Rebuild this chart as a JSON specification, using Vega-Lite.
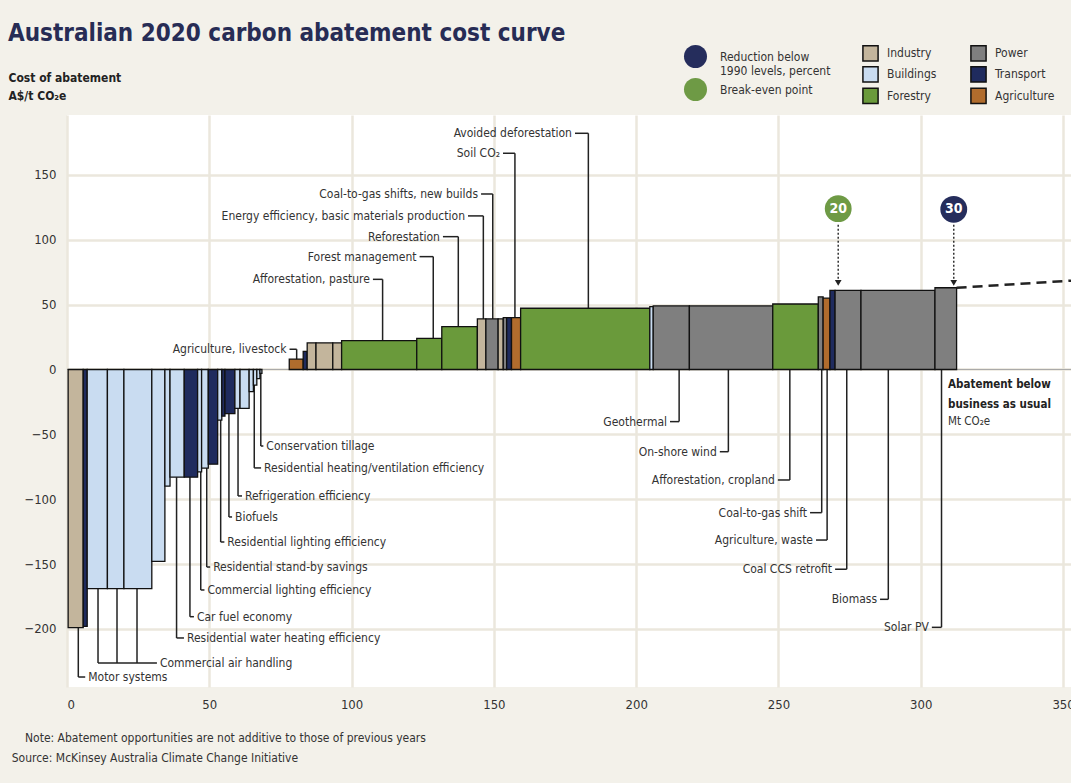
{
  "$schema": "https://vega.github.io/schema/vega-lite/v6.json",
  "width": 1004,
  "height": 572,
  "autosize": {"type": "none"},
  "padding": {"left": 67, "top": 115, "right": 0, "bottom": 96},
  "background": "#f3f1ea",
  "config": {
    "font": "Liberation Sans Narrow, DejaVu Sans Condensed, Liberation Sans",
    "view": {"fill": "white", "stroke": null},
    "axis": {"labelFontSize": 13, "labelColor": "#333333", "gridColor": "#ebe7dd", "gridWidth": 2.5, "domain": false, "ticks": false}
  },
  "title": {
    "text": "Australian 2020 carbon abatement cost curve",
    "anchor": "start",
    "frame": "group",
    "dx": -59,
    "dy": 6,
    "fontSize": 24,
    "fontWeight": "bold",
    "color": "#272c55",
    "offset": 4
  },
  "resolve": {"scale": {"color": "independent"}},
  "datasets": {
    "bars": [
      {"x": 0.4, "x2": 5.7, "y": -199, "sector": "Industry"},
      {"x": 5.7, "x2": 7.1, "y": -198, "sector": "Transport"},
      {"x": 7.1, "x2": 14.2, "y": -169, "sector": "Buildings"},
      {"x": 14.2, "x2": 20.0, "y": -169, "sector": "Buildings"},
      {"x": 20.0, "x2": 29.8, "y": -169, "sector": "Buildings"},
      {"x": 29.8, "x2": 34.4, "y": -148, "sector": "Buildings"},
      {"x": 34.4, "x2": 36.2, "y": -90, "sector": "Buildings"},
      {"x": 36.2, "x2": 41.2, "y": -83, "sector": "Buildings"},
      {"x": 41.2, "x2": 45.9, "y": -83, "sector": "Transport"},
      {"x": 45.9, "x2": 47.3, "y": -79, "sector": "Buildings"},
      {"x": 47.3, "x2": 49.65, "y": -76, "sector": "Buildings"},
      {"x": 49.65, "x2": 52.95, "y": -73, "sector": "Transport"},
      {"x": 52.95, "x2": 54.4, "y": -39, "sector": "Buildings"},
      {"x": 54.4, "x2": 55.5, "y": -36, "sector": "Transport"},
      {"x": 55.5, "x2": 59.0, "y": -34, "sector": "Transport"},
      {"x": 59.0, "x2": 60.8, "y": -30, "sector": "Buildings"},
      {"x": 60.8, "x2": 64.0, "y": -30, "sector": "Buildings"},
      {"x": 64.0, "x2": 65.5, "y": -17, "sector": "Buildings"},
      {"x": 65.5, "x2": 66.7, "y": -12, "sector": "Buildings"},
      {"x": 66.7, "x2": 67.8, "y": -7, "sector": "Buildings"},
      {"x": 67.8, "x2": 68.5, "y": -3, "sector": "Buildings"},
      {"x": 78.1, "x2": 83.0, "y": 8, "sector": "Agriculture"},
      {"x": 83.0, "x2": 84.4, "y": 14, "sector": "Transport"},
      {"x": 84.4, "x2": 87.5, "y": 20.5, "sector": "Industry"},
      {"x": 87.5, "x2": 93.4, "y": 20.5, "sector": "Industry"},
      {"x": 93.4, "x2": 96.5, "y": 20.5, "sector": "Industry"},
      {"x": 96.5, "x2": 122.9, "y": 22.3, "sector": "Forestry"},
      {"x": 122.9, "x2": 131.7, "y": 24, "sector": "Forestry"},
      {"x": 131.7, "x2": 144.2, "y": 33, "sector": "Forestry"},
      {"x": 144.2, "x2": 147.2, "y": 39, "sector": "Industry"},
      {"x": 147.2, "x2": 151.5, "y": 39, "sector": "Power"},
      {"x": 151.5, "x2": 153.3, "y": 39, "sector": "Industry"},
      {"x": 153.3, "x2": 154.5, "y": 40, "sector": "Power"},
      {"x": 154.5, "x2": 156.2, "y": 40, "sector": "Transport"},
      {"x": 156.2, "x2": 159.4, "y": 40, "sector": "Agriculture"},
      {"x": 159.4, "x2": 204.8, "y": 47.2, "sector": "Forestry"},
      {"x": 204.8, "x2": 206.0, "y": 48.5, "sector": "Buildings"},
      {"x": 206.0, "x2": 218.7, "y": 49, "sector": "Power"},
      {"x": 218.7, "x2": 248.0, "y": 49, "sector": "Power"},
      {"x": 248.0, "x2": 264.0, "y": 50.5, "sector": "Forestry"},
      {"x": 264.0, "x2": 265.7, "y": 56, "sector": "Power"},
      {"x": 265.7, "x2": 268.1, "y": 55, "sector": "Agriculture"},
      {"x": 268.1, "x2": 269.9, "y": 61, "sector": "Transport"},
      {"x": 269.9, "x2": 279.0, "y": 61, "sector": "Power"},
      {"x": 279.0, "x2": 305.0, "y": 61, "sector": "Power"},
      {"x": 305.0, "x2": 312.6, "y": 63, "sector": "Power"}
    ],
    "notes": [
      {"label": "Motor systems", "x": 3.97, "y": -237.1, "xt": 6.4, "side": "L"},
      {"label": "Commercial air handling", "x": 10.9, "y": -226.3, "xt": 31.6, "side": "L"},
      {"label": "", "x": 17.57, "y": -226.3, "xt": 17.57, "side": "L"},
      {"label": "", "x": 24.6, "y": -226.3, "xt": 24.6, "side": "L"},
      {"label": "Residential water heating efficiency", "x": 38.5, "y": -207, "xt": 41.1, "side": "L"},
      {"label": "Car fuel economy", "x": 43.2, "y": -190.6, "xt": 44.6, "side": "L"},
      {"label": "Commercial lighting efficiency", "x": 47.0, "y": -170.0, "xt": 48.3, "side": "L"},
      {"label": "Residential stand-by savings", "x": 49.1, "y": -152.3, "xt": 50.3, "side": "L"},
      {"label": "Residential lighting efficiency", "x": 54.0, "y": -133.0, "xt": 55.3, "side": "L"},
      {"label": "Biofuels", "x": 56.9, "y": -113.7, "xt": 58.0, "side": "L"},
      {"label": "Refrigeration efficiency", "x": 60.1, "y": -97.5, "xt": 61.5, "side": "L"},
      {"label": "Residential heating/ventilation efficiency", "x": 65.8, "y": -75.9, "xt": 68.2, "side": "L"},
      {"label": "Conservation tillage", "x": 68.1, "y": -59.0, "xt": 69.0, "side": "L"},
      {"label": "Avoided deforestation", "x": 183.2, "y": 182.1, "xt": 178.5, "side": "R"},
      {"label": "Soil CO₂", "x": 157.4, "y": 166.7, "xt": 153.2, "side": "R"},
      {"label": "Coal-to-gas shifts, new builds", "x": 149.6, "y": 135.3, "xt": 145.5, "side": "R"},
      {"label": "Energy efficiency, basic materials production", "x": 146.3, "y": 118.4, "xt": 140.9, "side": "R"},
      {"label": "Reforestation", "x": 137.5, "y": 102.4, "xt": 132.1, "side": "R"},
      {"label": "Forest management", "x": 128.7, "y": 87.0, "xt": 123.9, "side": "R"},
      {"label": "Afforestation, pasture", "x": 110.9, "y": 69.5, "xt": 107.5, "side": "R"},
      {"label": "Agriculture, livestock", "x": 80.7, "y": 15.6, "xt": 78.2, "side": "R"},
      {"label": "Geothermal", "x": 215.1, "y": -40.2, "xt": 211.9, "side": "R"},
      {"label": "On-shore wind", "x": 232.4, "y": -63.4, "xt": 229.4, "side": "R"},
      {"label": "Afforestation, cropland", "x": 254.0, "y": -85.2, "xt": 249.8, "side": "R"},
      {"label": "Coal-to-gas shift", "x": 265.2, "y": -110.4, "xt": 261.1, "side": "R"},
      {"label": "Agriculture, waste", "x": 267.1, "y": -131.5, "xt": 263.2, "side": "R"},
      {"label": "Coal CCS retrofit", "x": 274.0, "y": -154.0, "xt": 269.9, "side": "R"},
      {"label": "Biomass", "x": 288.6, "y": -177.2, "xt": 285.7, "side": "R"},
      {"label": "Solar PV", "x": 307.3, "y": -198.8, "xt": 303.9, "side": "R"}
    ],
    "markers": [
      {"x": 271.0, "y": 124.0, "type": "Break-even point", "lab": "20"},
      {"x": 311.6, "y": 123.5, "type": "Reduction below 1990 levels, percent", "lab": "30"}
    ],
    "arrows": [
      {"x": 271.0, "y": 111.5, "ye": 69.5},
      {"x": 311.6, "y": 111.5, "ye": 69.5}
    ],
    "arrowheads": [
      {"x": 271.0, "y": 66.8},
      {"x": 311.6, "y": 66.8}
    ],
    "trend": [
      {"x": 312.6, "y": 63},
      {"x": 352.8, "y": 68.5}
    ],
    "xtitle_bold": [
      {"x": 309.6, "y": -11.9, "text": "Abatement below"},
      {"x": 309.6, "y": -27.4, "text": "business as usual"}
    ],
    "xtitle_unit": [
      {"x": 309.6, "y": -40.2, "text": "Mt CO₂e"}
    ],
    "footer": [
      {"x": -14.76, "y": -284.4, "text": "Note: Abatement opportunities are not additive to those of previous years"},
      {"x": -19.43, "y": -299.8, "text": "Source: McKinsey Australia Climate Change Initiative"}
    ]
  },
  "layer": [
    {
      "data": {"name": "bars"},
      "mark": {"type": "rule", "opacity": 0},
      "encoding": {
        "x": {
          "field": "x", "type": "quantitative",
          "scale": {"domain": [0, 352.8], "nice": false, "zero": false},
          "axis": {"title": null, "values": [0, 50, 100, 150, 200, 250, 300, 350], "labelPadding": 11, "grid": true}
        },
        "y": {
          "field": "y", "type": "quantitative",
          "scale": {"domain": [-244.8, 196.2], "nice": false, "zero": false},
          "axis": {
            "title": ["Cost of abatement", "A$/t CO₂e"],
            "values": [-200, -150, -100, -50, 0, 50, 100, 150],
            "labelPadding": 11, "grid": true,
            "titleAngle": 0, "titleAlign": "left", "titleBaseline": "top",
            "titleX": -59, "titleY": -43, "titleFontSize": 12, "titleFontWeight": "bold",
            "titleColor": "#222222", "titleLineHeight": 18
          }
        }
      }
    },
    {
      "data": {"values": [{"z": 0}]},
      "mark": {"type": "rule", "color": "#a8a8a8", "strokeWidth": 1},
      "encoding": {"y": {"datum": 0, "type": "quantitative"}}
    },
    {
      "data": {"name": "notes"},
      "mark": {"type": "rule", "color": "#222222", "strokeWidth": 1.5},
      "encoding": {
        "x": {"field": "x", "type": "quantitative"},
        "y": {"field": "y", "type": "quantitative"},
        "y2": {"datum": 0}
      }
    },
    {
      "data": {"name": "notes"},
      "mark": {"type": "rule", "color": "#222222", "strokeWidth": 1.5},
      "encoding": {
        "x": {"field": "x", "type": "quantitative"},
        "x2": {"field": "xt"},
        "y": {"field": "y", "type": "quantitative"}
      }
    },
    {
      "data": {"name": "bars"},
      "mark": {"type": "rect", "stroke": "#111111", "strokeWidth": 1.3, "opacity": 1},
      "encoding": {
        "x": {"field": "x", "type": "quantitative"},
        "x2": {"field": "x2"},
        "y": {"field": "y", "type": "quantitative"},
        "y2": {"datum": 0},
        "color": {
          "field": "sector", "type": "nominal",
          "scale": {
            "domain": ["Industry", "Buildings", "Forestry", "Power", "Transport", "Agriculture"],
            "range": ["#c3b59c", "#c9dcf1", "#6a9a3b", "#7f7f7f", "#1f2b5e", "#b06c2d"]
          },
          "legend": {
            "title": null, "orient": "none", "legendX": 795, "legendY": -70.6,
            "columns": 2, "symbolType": "square", "symbolSize": 230,
            "symbolStrokeColor": "#111111", "symbolStrokeWidth": 1.5, "symbolOpacity": 1,
            "labelFontSize": 12, "labelColor": "#333333", "labelOffset": 8,
            "rowPadding": -1.5, "columnPadding": 30
          }
        }
      }
    },
    {
      "data": {"name": "notes"},
      "transform": [{"filter": "datum.side == 'L'"}],
      "mark": {"type": "text", "align": "left", "baseline": "middle", "dx": 3, "fontSize": 12, "color": "#333333"},
      "encoding": {
        "x": {"field": "xt", "type": "quantitative"},
        "y": {"field": "y", "type": "quantitative"},
        "text": {"field": "label"}
      }
    },
    {
      "data": {"name": "notes"},
      "transform": [{"filter": "datum.side == 'R'"}],
      "mark": {"type": "text", "align": "right", "baseline": "middle", "dx": -3, "fontSize": 12, "color": "#333333"},
      "encoding": {
        "x": {"field": "xt", "type": "quantitative"},
        "y": {"field": "y", "type": "quantitative"},
        "text": {"field": "label"}
      }
    },
    {
      "data": {"name": "trend"},
      "mark": {"type": "line", "color": "#222222", "strokeWidth": 2.5, "strokeDash": [10, 6]},
      "encoding": {
        "x": {"field": "x", "type": "quantitative"},
        "y": {"field": "y", "type": "quantitative"}
      }
    },
    {
      "data": {"name": "arrows"},
      "mark": {"type": "rule", "color": "#333333", "strokeWidth": 1.5, "strokeDash": [2, 2]},
      "encoding": {
        "x": {"field": "x", "type": "quantitative"},
        "y": {"field": "y", "type": "quantitative"},
        "y2": {"field": "ye"}
      }
    },
    {
      "data": {"name": "arrowheads"},
      "mark": {"type": "point", "shape": "triangle-down", "filled": true, "size": 45, "color": "#222222", "opacity": 1},
      "encoding": {
        "x": {"field": "x", "type": "quantitative"},
        "y": {"field": "y", "type": "quantitative"}
      }
    },
    {
      "data": {"name": "markers"},
      "mark": {"type": "point", "shape": "circle", "filled": true, "size": 720, "opacity": 1},
      "encoding": {
        "x": {"field": "x", "type": "quantitative"},
        "y": {"field": "y", "type": "quantitative"},
        "color": {
          "field": "type", "type": "nominal",
          "scale": {
            "domain": ["Reduction below 1990 levels, percent", "Break-even point"],
            "range": ["#252d5c", "#6e9a45"]
          },
          "legend": {
            "title": null, "orient": "none", "legendX": 616, "legendY": -71,
            "symbolType": "circle", "symbolSize": 530, "symbolOpacity": 1,
            "labelFontSize": 12, "labelColor": "#333333", "labelOffset": 12, "rowPadding": 0,
            "labelExpr": "datum.label == 'Break-even point' ? datum.label : ['Reduction below', '1990 levels, percent']"
          }
        }
      }
    },
    {
      "data": {"name": "markers"},
      "mark": {"type": "text", "align": "center", "baseline": "middle", "fontSize": 14, "fontWeight": "bold", "color": "white"},
      "encoding": {
        "x": {"field": "x", "type": "quantitative"},
        "y": {"field": "y", "type": "quantitative"},
        "text": {"field": "lab"}
      }
    },
    {
      "data": {"name": "xtitle_bold"},
      "mark": {"type": "text", "align": "left", "baseline": "middle", "fontSize": 11.5, "fontWeight": "bold", "color": "#222222"},
      "encoding": {
        "x": {"field": "x", "type": "quantitative"},
        "y": {"field": "y", "type": "quantitative"},
        "text": {"field": "text"}
      }
    },
    {
      "data": {"name": "xtitle_unit"},
      "mark": {"type": "text", "align": "left", "baseline": "middle", "fontSize": 11.5, "color": "#333333"},
      "encoding": {
        "x": {"field": "x", "type": "quantitative"},
        "y": {"field": "y", "type": "quantitative"},
        "text": {"field": "text"}
      }
    },
    {
      "data": {"name": "footer"},
      "mark": {"type": "text", "align": "left", "baseline": "middle", "fontSize": 12, "color": "#333333"},
      "encoding": {
        "x": {"field": "x", "type": "quantitative"},
        "y": {"field": "y", "type": "quantitative"},
        "text": {"field": "text"}
      }
    }
  ]
}
